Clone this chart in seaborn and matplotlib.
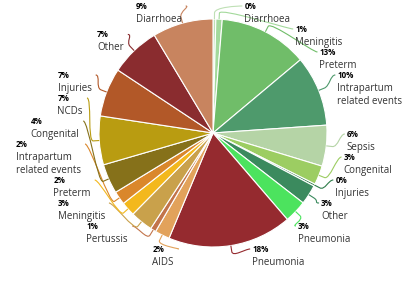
import textwrap
import numpy as np
import matplotlib
matplotlib.use("Agg")
import matplotlib.pyplot as plt
import seaborn as sns
from matplotlib.path import Path
from matplotlib.patches import PathPatch

# causes of death, clockwise from 12 o'clock
causes = ["Diarrhoea", "Meningitis", "Preterm", "Intrapartum related events", "Sepsis",
          "Congenital", "Injuries", "Other", "Pneumonia",
          "Pneumonia", "AIDS", "Pertussis", "Meningitis", "Preterm",
          "Intrapartum related events", "Congenital", "NCDs", "Injuries", "Other", "Diarrhoea"]
shares = [0.4, 0.9, 12.6, 10.0, 5.8, 2.7, 0.3, 2.8, 3.2,
          17.6, 2.1, 0.8, 3.2, 2.0, 1.9, 4.2, 6.9, 6.9, 7.1, 8.6]
colours = ["#bfe0b5", "#a3d99b", "#70bd69", "#4e9a6c", "#b5d4a6",
           "#9ccd62", "#2f7d4a", "#3b8a5e", "#4ce35e",
           "#952a2f", "#e2a25b", "#c2744b", "#c9a14b", "#f3b81d",
           "#da872b", "#86711a", "#b99c11", "#b25828", "#8a2c2f", "#c8845f"]

W, H = 408, 284
CX, CY, R = 213, 133, 114
RX, RY, LCY = 134, 126, 136   # ellipse the labels sit on


def distribute(items, lo, hi):
    # push overlapping label boxes apart, keeping each group near its targets
    groups = [[it] for it in sorted(items, key=lambda d: d["target"])]

    def place(g):
        off, vals = 0, []
        for it in g:
            vals.append(it["target"] - (off + it["size"] / 2))
            off += it["size"]
        pos = min(max(np.mean(vals), lo), hi - off)
        return pos, off

    merged = True
    while merged:
        merged = False
        for i in range(1, len(groups)):
            p0, s0 = place(groups[i - 1])
            p1, _ = place(groups[i])
            if p0 + s0 > p1 + 1e-6:
                groups[i - 1] = groups[i - 1] + groups[i]
                del groups[i]
                merged = True
                break
    for g in groups:
        pos, _ = place(g)
        for it in g:
            it["centre"] = pos + it["size"] / 2
            pos += it["size"]


sns.set_theme(style="white")
plt.rcParams["font.family"] = ["Open Sans", "DejaVu Sans"]

fig = plt.figure(figsize=(W / 100, H / 100), dpi=100)
ax = fig.add_axes([0, 0, 1, 1])
ax.pie(shares, colors=colours, startangle=-90, counterclock=True,
       center=(CX, CY), radius=R,
       wedgeprops=dict(edgecolor="white", linewidth=0.8))
ax.set_xlim(0, W)
ax.set_ylim(H, 0)
ax.set_aspect("equal")
ax.axis("off")

total = sum(shares)
mids = 360 * (np.cumsum(shares) - np.array(shares) / 2) / total

labels = []
for name, v, ang, col in zip(causes, shares, mids, colours):
    lines = textwrap.wrap(name, 14)
    labels.append(dict(lines=lines, pct=f"{v / total * 100:.0f}%", ang=ang, col=col,
                       side=1 if ang < 180 else -1, size=10 + 13 * len(lines),
                       target=CY - (R + 12) * np.cos(np.radians(ang))))

distribute([d for d in labels if d["side"] == 1], 2, 268)
distribute([d for d in labels if d["side"] == -1], 2, 268)

renderer = fig.canvas.get_renderer()
for d in labels:
    c = d["centre"]
    top = c - d["size"] / 2
    xoff = RX * np.sqrt(max(0.0, 1 - ((c - LCY) / RY) ** 2))
    names = [ax.text(0, top + 20 + 13 * k, ln, fontsize=7.0, color="#333333",
                     va="baseline", ha="left") for k, ln in enumerate(d["lines"])]
    width = max(t.get_window_extent(renderer).width for t in names)
    if d["side"] == 1:
        x0 = CX + xoff
        lx = x0 - 2
    else:
        x0 = CX - xoff - width
        lx = CX - xoff + 4
    for t in names:
        t.set_x(x0)
    ax.text(x0, top + 7, d["pct"], fontsize=5.8, fontweight="bold", color="black",
            va="baseline", ha="left")

    # soft connector: label -> break point -> slice edge
    a = np.radians(d["ang"])
    tx, ty = CX + R * np.sin(a), CY - R * np.cos(a)
    bx, by = CX + (R + 6) * np.sin(a), CY - (R + 6) * np.cos(a)
    ly = top + 4
    verts = [(lx, ly), (lx - 5 * d["side"], ly), (2 * bx - tx, 2 * by - ty), (bx, by), (tx, ty)]
    codes = [Path.MOVETO, Path.CURVE4, Path.CURVE4, Path.CURVE4, Path.LINETO]
    ax.add_patch(PathPatch(Path(verts, codes), facecolor="none", edgecolor=d["col"], lw=0.8))

fig.savefig("out.png", dpi=100)
